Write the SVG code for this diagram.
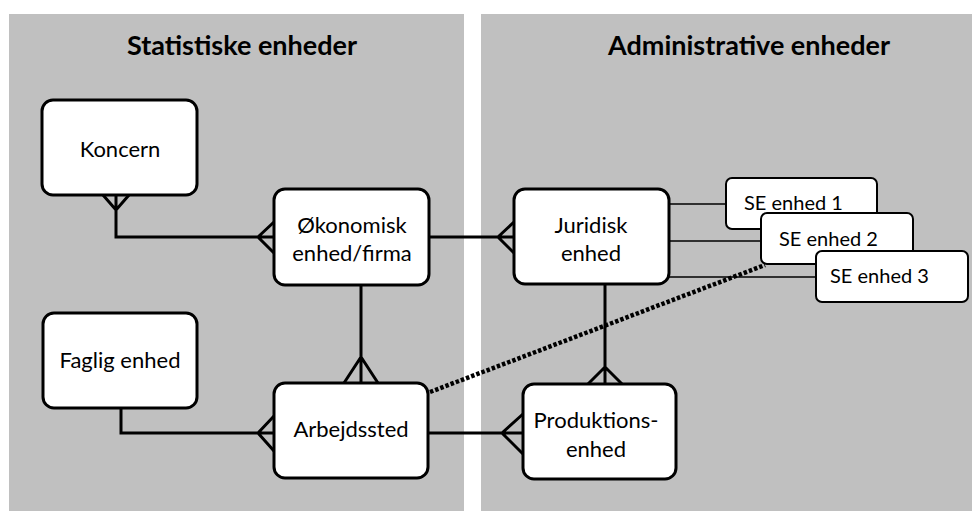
<svg xmlns="http://www.w3.org/2000/svg" width="974" height="511" viewBox="0 0 974 511">
<style>
.panel{fill:#c0c0c0}
.box{fill:#fff;stroke:#000;stroke-width:3}
.sebox{fill:#fff;stroke:#000;stroke-width:2}
.t{font-family:Lato,"Open Sans",sans-serif;font-size:22px;fill:#000;text-anchor:middle}
.se{font-family:Lato,"Open Sans",sans-serif;font-size:20px;fill:#000}
.title{font-family:Lato,"Open Sans",sans-serif;font-size:27px;font-weight:bold;fill:#000;text-anchor:middle}
.ln{fill:none;stroke:#000;stroke-width:3}
.thin{fill:none;stroke:#000;stroke-width:1.5}
.dot{fill:none;stroke:#000;stroke-width:4.5;stroke-dasharray:3.5 2}
</style>
<rect width="974" height="511" fill="#fff"/>
<rect class="panel" x="9" y="14" width="455" height="497"/>
<rect class="panel" x="481" y="14" width="491" height="497"/>
<text class="title" x="242" y="55">Statistiske enheder</text>
<text class="title" x="749" y="55">Administrative enheder</text>

<g id="connectors">
  <path class="ln" d="M116,195 V237 H274 M103,195 L116,210 L129,195 M274,222 L258,237 L274,253"/>
  <path class="ln" d="M429,237 H514 M514,222 L498,237 L514,253"/>
  <path class="ln" d="M361,285 V383 M344,383 L361,357 L378,383"/>
  <path class="ln" d="M121,408 V433 H274 M274,416 L258,433 L274,451"/>
  <path class="ln" d="M428,433 H523 M523,414 L502,433 L523,454"/>
  <path class="ln" d="M605,284 V384 M588,384 L605,367 L622,384"/>
  <path class="thin" d="M669,204 H726 M669,241 H761 M669,277 H816"/>
  <path class="dot" d="M430,392 L765,265"/>
</g>

<g id="koncern"><rect class="box" x="42" y="100" width="155" height="95" rx="11"/><text class="t" x="120" y="157">Koncern</text></g>
<g id="okonomisk"><rect class="box" x="274" y="189" width="155" height="96" rx="11"/><text class="t" x="352" y="233">Økonomisk</text><text class="t" x="352" y="261">enhed/firma</text></g>
<g id="juridisk"><rect class="box" x="514" y="189" width="155" height="95" rx="11"/><text class="t" x="591" y="233">Juridisk</text><text class="t" x="591" y="261">enhed</text></g>
<g id="faglig"><rect class="box" x="43" y="313" width="154" height="95" rx="11"/><text class="t" x="120" y="368">Faglig enhed</text></g>
<g id="arbejdssted"><rect class="box" x="274" y="383" width="154" height="95" rx="11"/><text class="t" x="351" y="437">Arbejdssted</text></g>
<g id="produktionsenhed"><rect class="box" x="523" y="384" width="153" height="95" rx="11"/><text class="t" x="596" y="428">Produktions-</text><text class="t" x="596" y="457">enhed</text></g>
<g id="se1"><rect class="sebox" x="726" y="178" width="151" height="51" rx="6"/><text class="se" x="744" y="210">SE enhed 1</text></g>
<g id="se2"><rect class="sebox" x="761" y="213" width="152" height="51" rx="6"/><text class="se" x="779" y="246">SE enhed 2</text></g>
<g id="se3"><rect class="sebox" x="816" y="251" width="152" height="51" rx="6"/><text class="se" x="830" y="283">SE enhed 3</text></g>
</svg>
